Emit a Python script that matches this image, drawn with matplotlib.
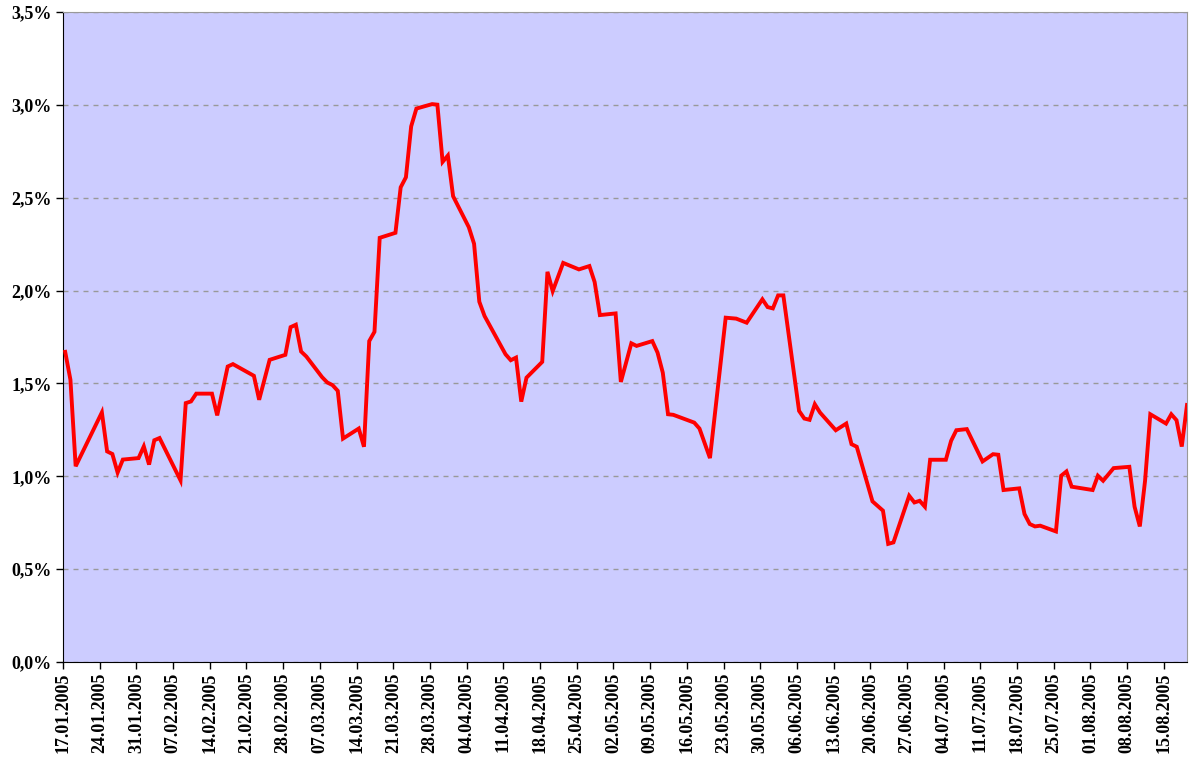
import numpy as np
import pandas as pd
import matplotlib
matplotlib.use('Agg')
import matplotlib.pyplot as plt
import matplotlib.dates as mdates
from matplotlib.ticker import FuncFormatter, MultipleLocator

plt.rc('font', family='Liberation Serif', weight='bold')

# days after 17.01.2005 for each reading
day_offset = [0, 1, 2, 7, 8, 9, 10, 11, 14, 15, 16, 17, 18, 22, 23, 24, 25, 28, 29, 31,
              32, 36, 37, 39, 42, 43, 44, 45, 46, 49, 50, 51, 52, 53, 56, 57, 58, 59, 60, 63,
              64, 65, 66, 67, 70, 71, 72, 73, 74, 77, 78, 79, 80, 84, 85, 86, 87, 88, 91, 92,
              93, 95, 98, 100, 101, 102, 105, 106, 108, 109, 112, 113, 114, 115, 116, 120, 121, 123, 126, 128,
              130, 133, 134, 135, 136, 137, 140, 141, 142, 143, 144, 147, 149, 150, 151, 154, 156, 157, 158, 161,
              162, 163, 164, 165, 168, 169, 170, 172, 175, 177, 178, 179, 182, 183, 184, 185, 186, 189, 190, 191,
              192, 196, 197, 198, 200, 203, 204, 205, 206, 207, 210, 211, 212, 213, 214]

# percent
values = [1.67, 1.52, 1.054, 1.344, 1.134, 1.12, 1.02, 1.09, 1.098, 1.161, 1.063, 1.194, 1.206, 0.978, 1.394, 1.403, 1.445, 1.445, 1.328, 1.591,
          1.604, 1.541, 1.412, 1.627, 1.654, 1.803, 1.816, 1.672, 1.645, 1.534, 1.505, 1.491, 1.46, 1.203, 1.257, 1.159, 1.728, 1.778, 2.284, 2.311,
          2.556, 2.61, 2.884, 2.98, 3.004, 3.001, 2.693, 2.727, 2.508, 2.341, 2.252, 1.94, 1.863, 1.657, 1.625, 1.639, 1.402, 1.531, 1.616, 2.101,
          1.997, 2.149, 2.114, 2.132, 2.046, 1.868, 1.877, 1.508, 1.716, 1.702, 1.728, 1.666, 1.558, 1.334, 1.331, 1.289, 1.257, 1.098, 1.854, 1.849,
          1.827, 1.953, 1.911, 1.904, 1.974, 1.974, 1.352, 1.311, 1.304, 1.388, 1.343, 1.248, 1.284, 1.173, 1.159, 0.865, 0.815, 0.636, 0.644, 0.895,
          0.859, 0.868, 0.836, 1.089, 1.089, 1.191, 1.248, 1.254, 1.080, 1.119, 1.116, 0.926, 0.935, 0.797, 0.743, 0.730, 0.734, 0.703, 1.003, 1.026,
          0.944, 0.926, 1.003, 0.976, 1.044, 1.051, 0.836, 0.730, 0.976, 1.334, 1.284, 1.334, 1.302, 1.160, 1.384]

start = pd.Timestamp('2005-01-17')
end = pd.Timestamp('2005-08-19')
dates = start + pd.to_timedelta(day_offset, unit='D')
tick_dates = pd.date_range(start, '2005-08-15', freq='7D')

# the original draws each reading a little after midnight of its day
shift = pd.Timedelta(hours=10)

fig = plt.figure(figsize=(11.93, 7.65), dpi=100)
ax = fig.add_axes([63 / 1193, 1 - 662 / 765, 1124 / 1193, 650 / 765])
ax.set_facecolor('#CCCCFF')

ax.plot(dates + shift, values, color='#FF0000', lw=2.8, solid_joinstyle='miter', zorder=3)

ax.set_ylim(0, 3.5)
ax.set_xlim(start, end + shift)
ax.yaxis.set_major_locator(MultipleLocator(0.5))
ax.yaxis.set_major_formatter(FuncFormatter(lambda v, p: ('%.1f%%' % v).replace('.', ',')))
ax.grid(axis='y', color='#999999', ls=(0, (3.6, 3.6)), lw=1)
ax.set_axisbelow(True)

ax.set_xticks(tick_dates)
ax.xaxis.set_major_formatter(mdates.DateFormatter('%d.%m.%Y'))
plt.setp(ax.get_xticklabels(), rotation=90)
ax.tick_params(axis='both', direction='out', length=5, width=1, color='black',
               labelsize=13, pad=3)

for s in ['top', 'right']:
    ax.spines[s].set_color('#999999')
for s in ['left', 'bottom']:
    ax.spines[s].set_color('black')

fig.savefig('out.png', dpi=100)
